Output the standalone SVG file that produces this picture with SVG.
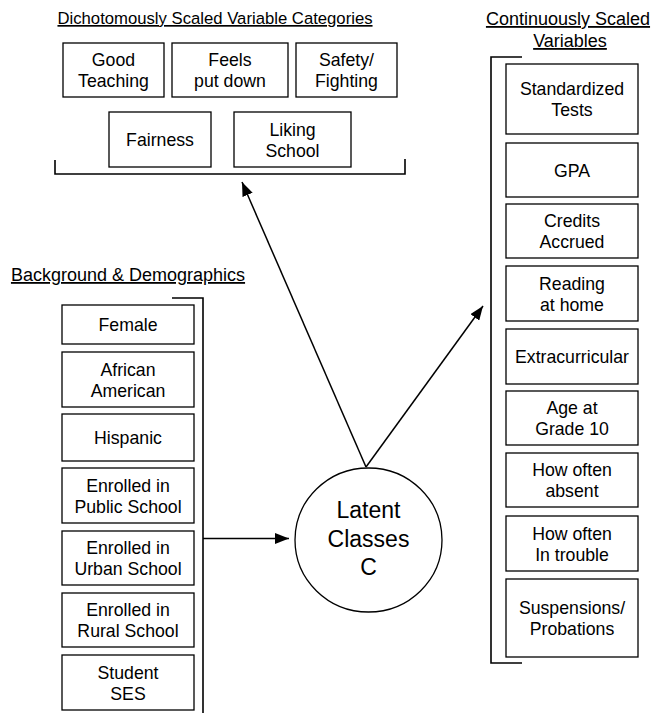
<svg xmlns="http://www.w3.org/2000/svg" width="651" height="713" viewBox="0 0 651 713">
<defs>
<style>
text{font-family:"Liberation Sans",Arial,sans-serif;fill:#000;text-anchor:middle}
.t{font-size:17.7px}
.h{font-size:18px;text-decoration:underline}
.c{font-size:23px}
.b{fill:#fff;stroke:#000;stroke-width:1.3}
.br{fill:none;stroke:#000;stroke-width:1.6}
.ar{fill:none;stroke:#000;stroke-width:1.5}
</style>
<marker id="ah" markerUnits="userSpaceOnUse" markerWidth="15" markerHeight="11" refX="14" refY="5.5" orient="auto"><path d="M0,0 L14,5.5 L0,11 z" fill="#000"/></marker>
</defs>
<rect width="651" height="713" fill="#fff"/>

<g id="titles">
<text class="h" x="215" y="24" style="font-size:16.7px">Dichotomously Scaled Variable Categories</text>
<text class="h" x="568" y="25">Continuously Scaled</text>
<text class="h" x="570" y="47">Variables</text>
<text class="h" x="128" y="281">Background &amp; Demographics</text>
</g>

<g id="brackets">
<path class="br" d="M55,160 V174 H405 V159"/>
<path class="br" d="M522,57 H491 V663 H522"/>
<path class="br" d="M172,298 H203 V713"/>
</g>

<g id="dich">
<g id="good-teaching"><rect class="b" x="63" y="43" width="101" height="54"/><text class="t" x="113.5" y="66">Good</text><text class="t" x="113.5" y="87">Teaching</text></g>
<g id="feels-put-down"><rect class="b" x="172" y="43" width="116" height="54"/><text class="t" x="230" y="66">Feels</text><text class="t" x="230" y="87">put down</text></g>
<g id="safety-fighting"><rect class="b" x="296" y="43" width="101" height="54"/><text class="t" x="346.5" y="66">Safety/</text><text class="t" x="346.5" y="87">Fighting</text></g>
<g id="fairness"><rect class="b" x="109" y="112" width="102" height="55"/><text class="t" x="160" y="146">Fairness</text></g>
<g id="liking-school"><rect class="b" x="234" y="112" width="117" height="55"/><text class="t" x="292.5" y="135.5">Liking</text><text class="t" x="292.5" y="156.5">School</text></g>
</g>

<g id="cont">
<g id="standardized-tests"><rect class="b" x="506" y="64" width="132" height="70"/><text class="t" x="572" y="95">Standardized</text><text class="t" x="572" y="116">Tests</text></g>
<g id="gpa"><rect class="b" x="506" y="143" width="132" height="54"/><text class="t" x="572" y="176.5">GPA</text></g>
<g id="credits-accrued"><rect class="b" x="506" y="204" width="132" height="54"/><text class="t" x="572" y="227">Credits</text><text class="t" x="572" y="248">Accrued</text></g>
<g id="reading-at-home"><rect class="b" x="506" y="266" width="132" height="55"/><text class="t" x="572" y="289.5">Reading</text><text class="t" x="572" y="310.5">at home</text></g>
<g id="extracurricular"><rect class="b" x="506" y="329" width="132" height="55"/><text class="t" x="572" y="363">Extracurricular</text></g>
<g id="age-grade10"><rect class="b" x="506" y="391" width="132" height="54"/><text class="t" x="572" y="414">Age at</text><text class="t" x="572" y="435">Grade 10</text></g>
<g id="how-often-absent"><rect class="b" x="506" y="453" width="132" height="54"/><text class="t" x="572" y="476">How often</text><text class="t" x="572" y="497">absent</text></g>
<g id="how-often-trouble"><rect class="b" x="506" y="516" width="132" height="55"/><text class="t" x="572" y="539.5">How often</text><text class="t" x="572" y="560.5">In trouble</text></g>
<g id="suspensions"><rect class="b" x="506" y="579" width="132" height="78"/><text class="t" x="572" y="614">Suspensions/</text><text class="t" x="572" y="635">Probations</text></g>
</g>

<g id="background">
<g id="female"><rect class="b" x="62" y="305" width="132" height="39"/><text class="t" x="128" y="331">Female</text></g>
<g id="african-american"><rect class="b" x="62" y="352" width="132" height="55"/><text class="t" x="128" y="375.5">African</text><text class="t" x="128" y="396.5">American</text></g>
<g id="hispanic"><rect class="b" x="62" y="414" width="132" height="47"/><text class="t" x="128" y="444">Hispanic</text></g>
<g id="public-school"><rect class="b" x="62" y="468" width="132" height="55"/><text class="t" x="128" y="491.5">Enrolled in</text><text class="t" x="128" y="512.5">Public School</text></g>
<g id="urban-school"><rect class="b" x="62" y="531" width="132" height="54"/><text class="t" x="128" y="554">Enrolled in</text><text class="t" x="128" y="575">Urban School</text></g>
<g id="rural-school"><rect class="b" x="62" y="593" width="132" height="54"/><text class="t" x="128" y="616">Enrolled in</text><text class="t" x="128" y="637">Rural School</text></g>
<g id="student-ses"><rect class="b" x="62" y="655" width="132" height="55"/><text class="t" x="128" y="678.5">Student</text><text class="t" x="128" y="699.5">SES</text></g>
</g>

<g id="latent-classes">
<ellipse cx="368.5" cy="540" rx="73.5" ry="72" fill="#fff" stroke="#000" stroke-width="1.3"/>
<text class="c" x="368.5" y="518">Latent</text>
<text class="c" x="368.5" y="547">Classes</text>
<text class="c" x="368.5" y="575">C</text>
</g>

<g id="connectors">
<path class="ar" d="M366,467 L242,182" marker-end="url(#ah)"/>
<path class="ar" d="M366,467 L483,306" marker-end="url(#ah)"/>
<path class="ar" d="M203,538.5 L289,538.5" marker-end="url(#ah)"/>
</g>
</svg>
